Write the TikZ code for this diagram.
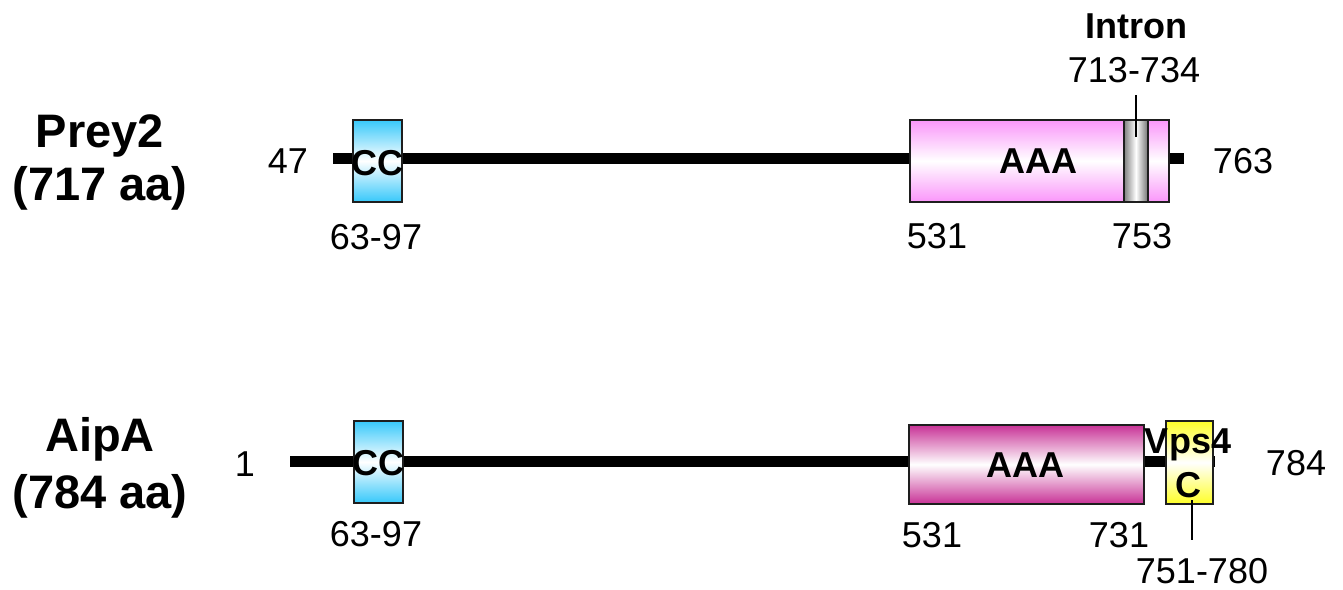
\documentclass[tikz,border=0pt]{standalone}
\usepackage{fontspec}
\setmainfont{Liberation Sans}
\definecolor{ccblue}{RGB}{55,200,250}
\definecolor{aaalight}{RGB}{250,150,250}
\definecolor{aaadark}{RGB}{200,50,150}
\definecolor{vpsyellow}{RGB}{255,255,40}
\definecolor{edge}{RGB}{30,30,30}
\tikzset{
  num/.style={anchor=base,inner sep=0pt,font=\fontsize{36}{43}\selectfont},
  bnum/.style={anchor=base,inner sep=0pt,font=\fontsize{36}{43}\selectfont\bfseries},
  title/.style={anchor=base,inner sep=0pt,align=center,font=\fontsize{47}{53}\selectfont\bfseries},
  backbone/.style={line width=11pt,black},
  protbox/.style={draw=edge,line width=1.8pt,inner sep=0pt,anchor=north west},
  ccbox/.style={protbox,minimum width=49pt,minimum height=82pt,top color=ccblue,bottom color=ccblue,middle color=white},
  tick/.style={line width=1.5pt,black}
}
\begin{document}
\begin{tikzpicture}[x=1pt,y=-1pt]
\useasboundingbox (0,0) rectangle (1343,589);
% ---------------- Prey2 ----------------
\node[title] (t1a) at (100,147) {Prey2};
\node[title] (t1b) at (100,200) {(717 aa)};
\coordinate (p1l) at (333,158.5);
\coordinate (p1r) at (1184,158.5);
\draw[backbone] (p1l) -- (p1r);
\node[ccbox] (cc1) at (352,119) {};
\node[protbox,minimum width=259pt,minimum height=82pt,top color=aaalight,bottom color=aaalight,middle color=white] (aaa1) at (909,119) {};
\node[protbox,minimum width=24pt,minimum height=82pt,left color=black!50,right color=black!55,middle color=white] (intron) at (1123,119) {};
\coordinate (it1) at (1136,95);
\coordinate (it2) at (1136,137);
\draw[tick] (it1) -- (it2);
\node[bnum] (cct1) at (cc1.center |- 0,175) {CC};
\node[bnum] (aaat1) at (1038,173) {AAA};
\node[bnum] (intront) at (1136,38) {Intron};
\node[num] (n713) at (1134,82) {713-734};
\node[num] (n47) at (288,173) {47};
\node[num] (n763) at (1243,173) {763};
\node[num] (n6397a) at (376,249) {63-97};
\node[num] (n531a) at (937,248) {531};
\node[num] (n753) at (1142,248) {753};
% ---------------- AipA ----------------
\node[title] (t2a) at (100,451) {AipA};
\node[title] (t2b) at (100,508) {(784 aa)};
\coordinate (p2l) at (290,461);
\coordinate (p2r) at (1215,461);
\draw[backbone] (p2l) -- (p2r);
\node[ccbox] (cc2) at (353,420) {};
\node[protbox,minimum width=235pt,minimum height=79pt,top color=aaadark,bottom color=aaadark,middle color=white] (aaa2) at (908,424) {};
\node[protbox,minimum width=47pt,minimum height=83pt,top color=vpsyellow,bottom color=vpsyellow,middle color=white] (vps) at (1165,420) {};
\coordinate (vt1) at (1192,500);
\coordinate (vt2) at (1192,540);
\draw[tick] (vt1) -- (vt2);
\node[bnum] (cct2) at (cc2.center |- 0,475) {CC};
\node[bnum] (aaat2) at (1025,477) {AAA};
\node[bnum] (vpst) at (1188,453) {Vps4};
\node[bnum] (vpsc) at (1188,497) {C};
\node[num] (n1) at (245,476) {1};
\node[num] (n784) at (1296,475) {784};
\node[num] (n6397b) at (376,546) {63-97};
\node[num] (n531b) at (932,547) {531};
\node[num] (n731) at (1119,547) {731};
\node[num] (n751) at (1202,583) {751-780};
\end{tikzpicture}
\end{document}
